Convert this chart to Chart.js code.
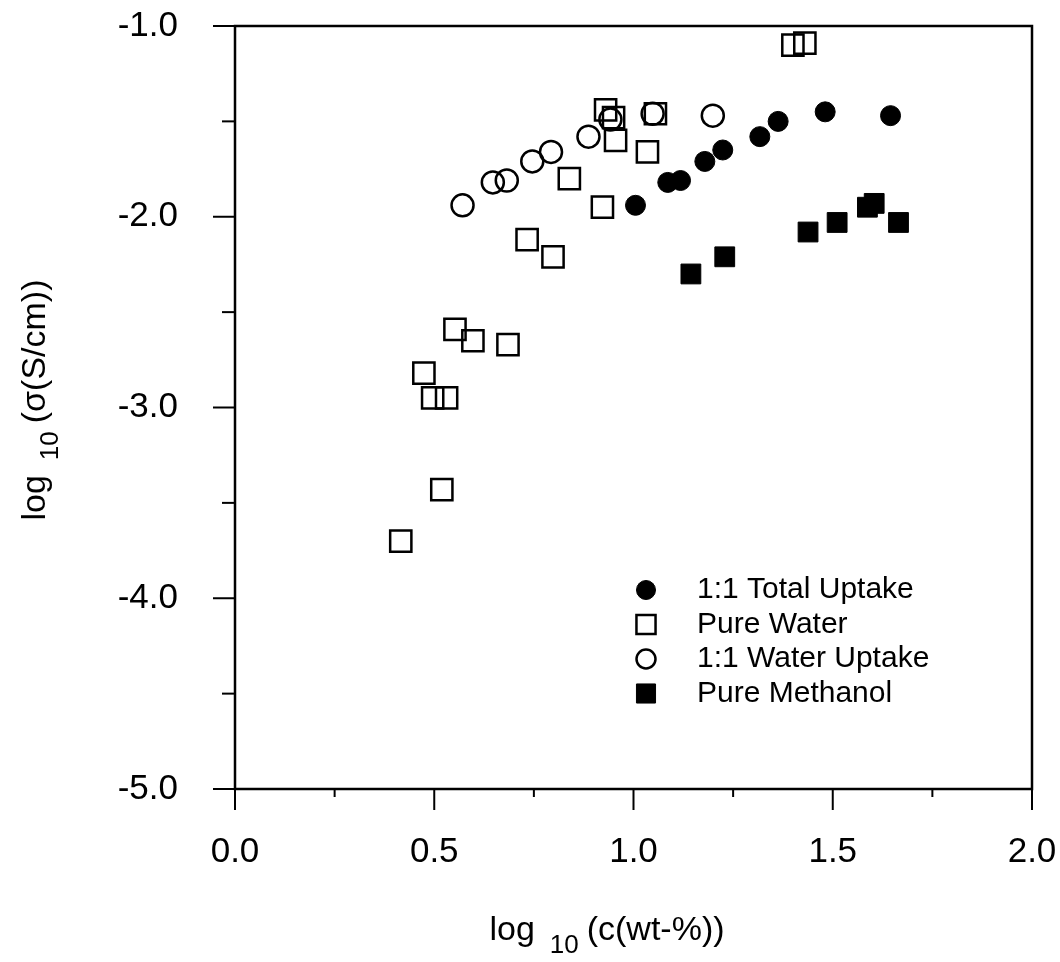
<!DOCTYPE html>
<html>
<head>
<meta charset="utf-8">
<script src="https://cdn.jsdelivr.net/npm/chart.js@4.4.0/dist/chart.umd.min.js"></script>
<style>
  html, body { margin: 0; padding: 0; background: #fff; }
  #wrap { width: 1060px; height: 962px; }
</style>
</head>
<body>
<div id="wrap"><canvas id="chart" width="1060" height="962"></canvas></div>
<script>
// data: log10(c wt-%) vs log10(sigma S/cm)
const totalUptakeX = [1.005, 1.086, 1.118, 1.179, 1.224, 1.317, 1.363, 1.481, 1.645];
const totalUptakeY = [-1.94, -1.82, -1.81, -1.71, -1.65, -1.58, -1.50, -1.45, -1.47];

const pureWaterX = [0.416, 0.519, 0.474, 0.496, 0.531, 0.552, 0.597, 0.685, 0.733, 0.798,
  0.839, 0.922, 1.035, 0.955, 0.930, 0.950, 1.055, 1.400, 1.430];
const pureWaterY = [-3.70, -3.43, -2.82, -2.95, -2.95, -2.59, -2.65, -2.67, -2.12, -2.21,
  -1.80, -1.95, -1.66, -1.60, -1.44, -1.48, -1.46, -1.10, -1.09];

const waterUptakeX = [0.571, 0.647, 0.682, 0.746, 0.793, 0.887, 0.942, 1.048, 1.199];
const waterUptakeY = [-1.94, -1.82, -1.81, -1.71, -1.66, -1.58, -1.49, -1.46, -1.47];

const methanolX = [1.144, 1.229, 1.438, 1.511, 1.587, 1.604, 1.665];
const methanolY = [-2.30, -2.21, -2.08, -2.03, -1.95, -1.93, -2.03];

const seriesNames = ["1:1 Total Uptake", "Pure Water", "1:1 Water Uptake", "Pure Methanol"];

const FONT = "'Liberation Sans', Arial, Helvetica, sans-serif";

function toPoints(xs, ys) {
  return xs.map((x, i) => ({ x: x, y: ys[i] }));
}

// "log 10 (...)" with a lowered 10
function drawLogTitle(ctx, rest, cx, cy) {
  const big = "34px " + FONT;
  const small = "26px " + FONT;
  ctx.font = big;
  const w1 = ctx.measureText("log").width;
  const w3 = ctx.measureText(rest).width;
  ctx.font = small;
  const w2 = ctx.measureText("10").width;
  const gap1 = 15, gap2 = 8;
  let x = cx - (w1 + gap1 + w2 + gap2 + w3) / 2;
  ctx.textAlign = "left";
  ctx.textBaseline = "alphabetic";
  ctx.font = big;
  ctx.fillText("log", x, cy);
  x += w1 + gap1;
  ctx.font = small;
  ctx.fillText("10", x, cy + 13);
  x += w2 + gap2;
  ctx.font = big;
  ctx.fillText(rest, x, cy);
}

// frame, major/minor tick marks, axis titles, legend inside the plot
const decorPlugin = {
  id: "decor",
  afterDraw(chart) {
    const ctx = chart.ctx;
    const a = chart.chartArea;
    const xs = chart.scales.x;
    const ys = chart.scales.y;
    ctx.save();
    ctx.strokeStyle = "#000";
    ctx.lineWidth = 2.5;
    ctx.strokeRect(a.left, a.top, a.right - a.left, a.bottom - a.top);

    ctx.lineWidth = 2;
    xs.ticks.forEach((t) => {
      const px = xs.getPixelForValue(t.value);
      const major = Math.abs(t.value * 2 - Math.round(t.value * 2)) < 1e-6;
      ctx.beginPath();
      ctx.moveTo(px, a.bottom);
      ctx.lineTo(px, a.bottom + (major ? 21 : 8));
      ctx.stroke();
    });
    ys.ticks.forEach((t) => {
      const py = ys.getPixelForValue(t.value);
      const major = Math.abs(t.value - Math.round(t.value)) < 1e-6;
      ctx.beginPath();
      ctx.moveTo(a.left, py);
      ctx.lineTo(a.left - (major ? 22 : 13), py);
      ctx.stroke();
    });

    ctx.fillStyle = "#000";
    drawLogTitle(ctx, "(c(wt-%))", 607, 940);
    ctx.save();
    ctx.translate(45, 400);
    ctx.rotate(-Math.PI / 2);
    drawLogTitle(ctx, "(σ(S/cm))", 0, 0);
    ctx.restore();

    const lx = 646;
    const tx = 697;
    let ly = 590;
    ctx.font = "30px " + FONT;
    ctx.textAlign = "left";
    ctx.textBaseline = "middle";
    chart.data.datasets.forEach((ds) => {
      ctx.save();
      ctx.lineWidth = ds.borderWidth;
      ctx.strokeStyle = ds.borderColor;
      ctx.fillStyle = ds.backgroundColor;
      Chart.helpers.drawPoint(ctx, {
        pointStyle: ds.pointStyle,
        radius: ds.pointStyle === "rect" ? 13.5 : 9.5,
        borderWidth: ds.borderWidth,
        rotation: 0
      }, lx, ly);
      ctx.restore();
      ctx.fillStyle = "#000";
      ctx.fillText(ds.label, tx, ly);
      ly += 34.5;
    });
    ctx.restore();
  }
};

function noPad(s) {
  s.paddingLeft = 0;
  s.paddingRight = 0;
  s.paddingTop = 0;
  s.paddingBottom = 0;
}

const ctx = document.getElementById("chart").getContext("2d");
const chart = new Chart(ctx, {
  type: "scatter",
  data: {
    datasets: [
      {
        label: seriesNames[0],
        data: toPoints(totalUptakeX, totalUptakeY),
        pointStyle: "circle",
        pointRadius: 10,
        backgroundColor: "#000",
        borderColor: "#000",
        borderWidth: 1
      },
      {
        label: seriesNames[1],
        data: toPoints(pureWaterX, pureWaterY),
        pointStyle: "rect",
        pointRadius: 15,
        backgroundColor: "rgba(255,255,255,0)",
        borderColor: "#000",
        borderWidth: 2.5
      },
      {
        label: seriesNames[2],
        data: toPoints(waterUptakeX, waterUptakeY),
        pointStyle: "circle",
        pointRadius: 11,
        backgroundColor: "rgba(255,255,255,0)",
        borderColor: "#000",
        borderWidth: 2.5
      },
      {
        label: seriesNames[3],
        data: toPoints(methanolX, methanolY),
        pointStyle: "rect",
        pointRadius: 14,
        backgroundColor: "#000",
        borderColor: "#000",
        borderWidth: 1
      }
    ]
  },
  options: {
    responsive: false,
    animation: false,
    layout: { padding: { top: 26, right: 28, left: 0, bottom: 0 } },
    plugins: {
      legend: { display: false },
      tooltip: { enabled: false }
    },
    scales: {
      x: {
        type: "linear",
        min: 0,
        max: 2,
        grid: { drawOnChartArea: false, drawTicks: false },
        border: { display: false },
        ticks: {
          stepSize: 0.25,
          padding: 42,
          color: "#000",
          font: { family: FONT, size: 35 },
          maxRotation: 0,
          autoSkip: false,
          callback: function (v) {
            return Math.abs(v * 2 - Math.round(v * 2)) < 1e-6 ? v.toFixed(1) : "";
          }
        },
        afterFit: function (s) { s.height = 173; noPad(s); }
      },
      y: {
        type: "linear",
        min: -5,
        max: -1,
        grid: { drawOnChartArea: false, drawTicks: false },
        border: { display: false },
        ticks: {
          stepSize: 0.5,
          padding: 57,
          color: "#000",
          font: { family: FONT, size: 35 },
          autoSkip: false,
          callback: function (v) {
            return Math.abs(v - Math.round(v)) < 1e-6 ? v.toFixed(1) : "";
          }
        },
        afterFit: function (s) { s.width = 235; noPad(s); }
      }
    }
  },
  plugins: [decorPlugin]
});
</script>
</body>
</html>
